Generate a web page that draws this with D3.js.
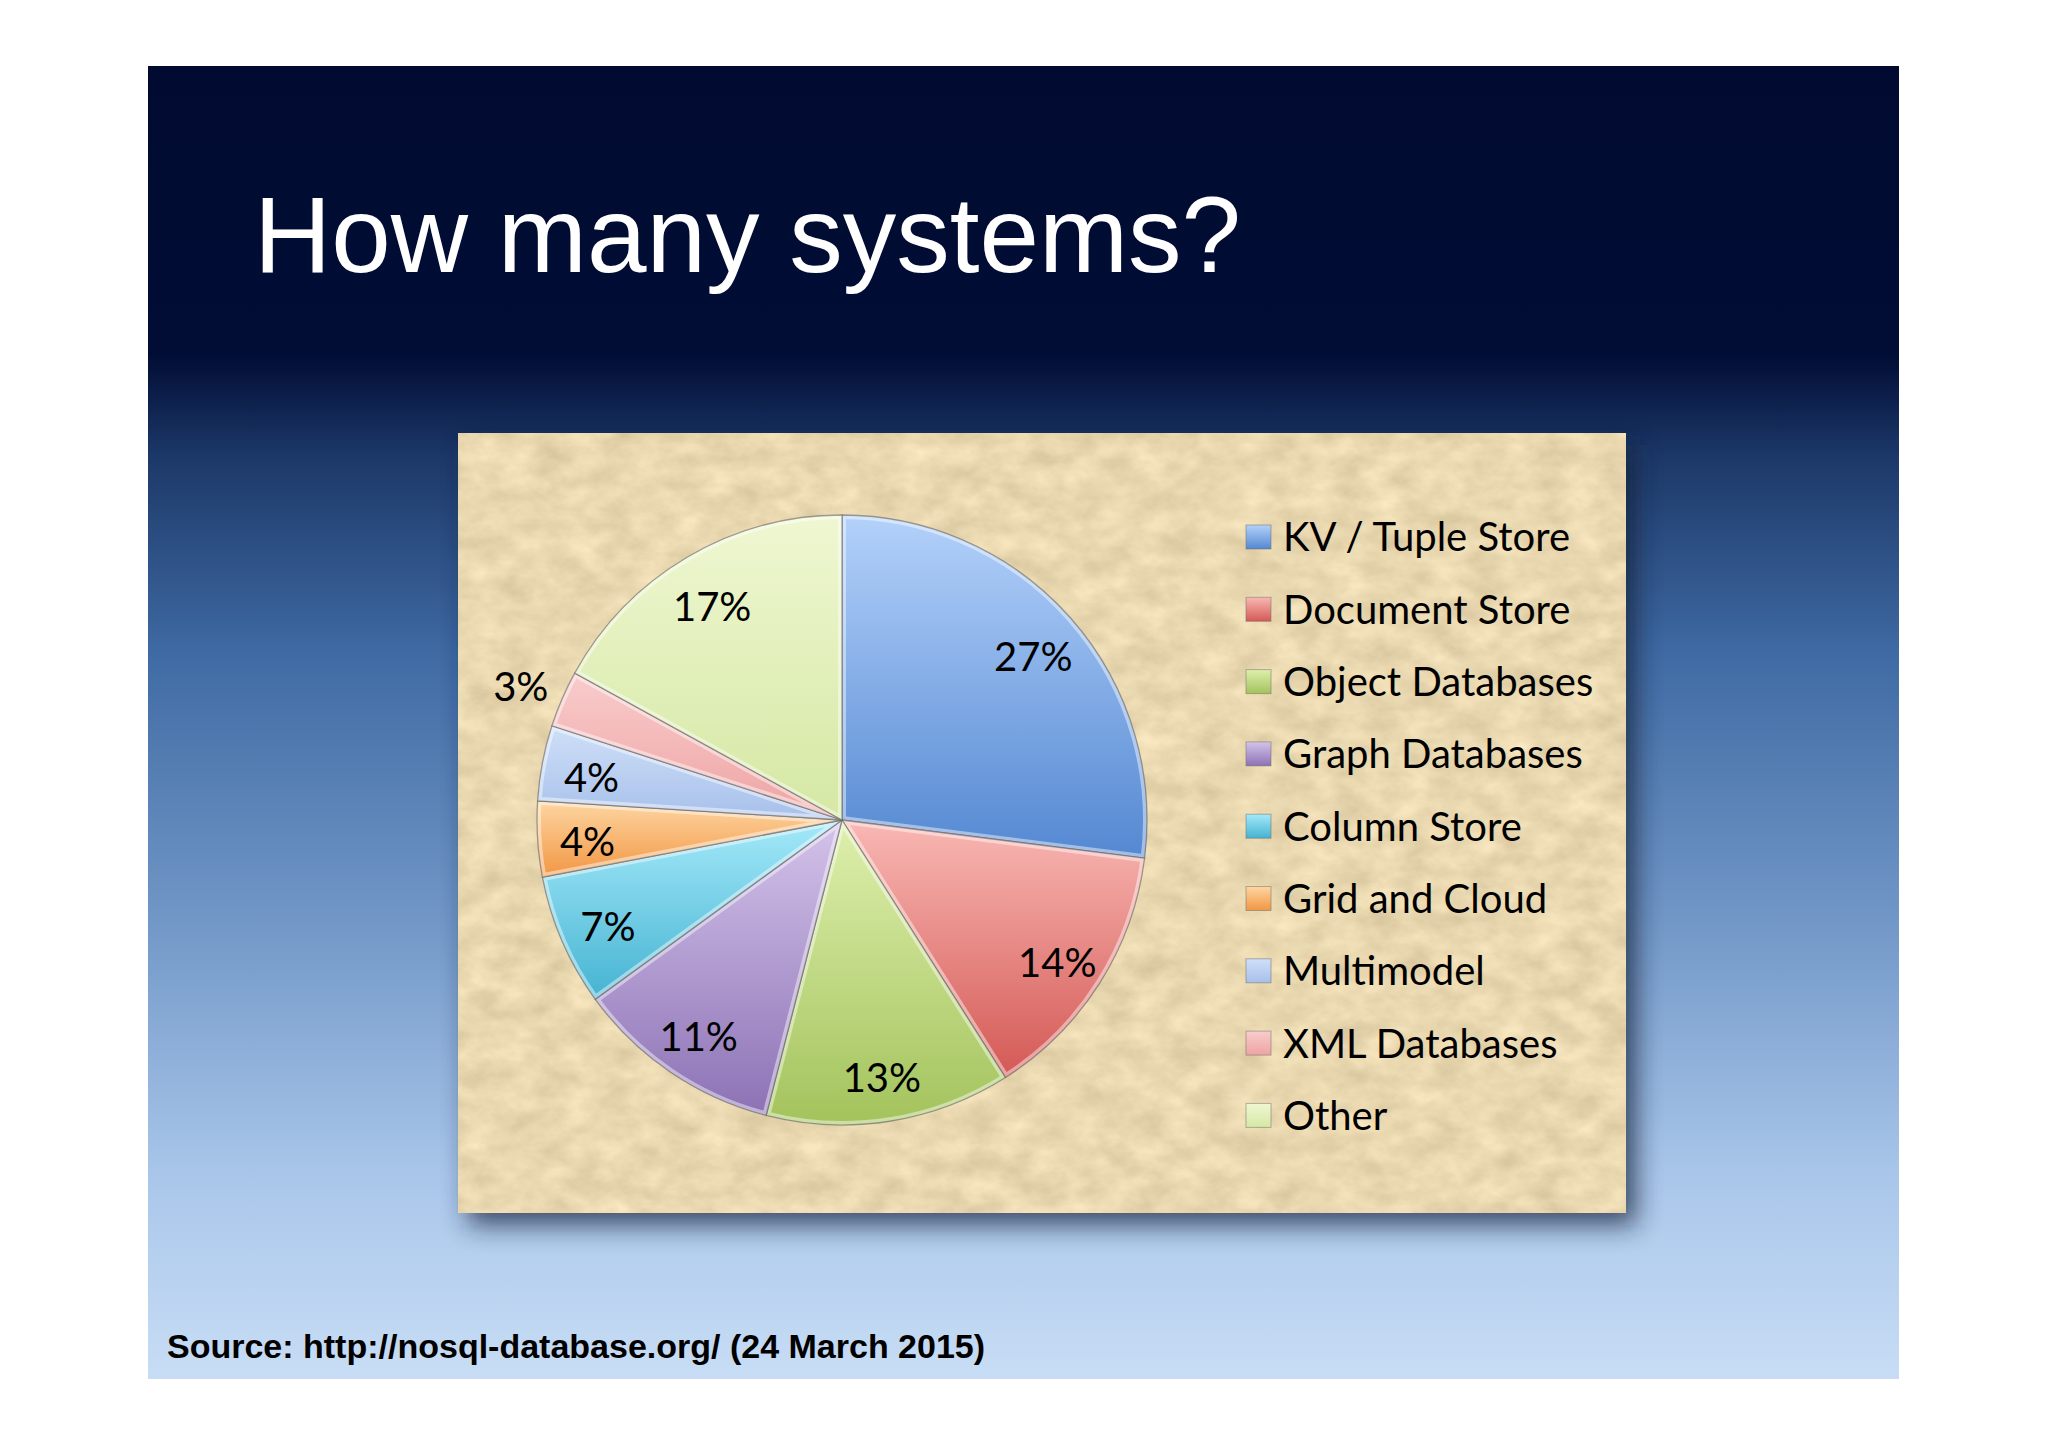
<!DOCTYPE html>
<html>
<head>
<meta charset="utf-8">
<script src="https://cdn.jsdelivr.net/npm/d3@7"></script>
<style>
  body { margin: 0; background: #fff; }
  svg { display: block; }
</style>
</head>
<body>
<svg id="chart"></svg>
<script>
// data
const categories = [
  "KV / Tuple Store", "Document Store", "Object Databases", "Graph Databases",
  "Column Store", "Grid and Cloud", "Multimodel", "XML Databases", "Other"
];
const shares = [27, 14, 13, 11, 7, 4, 4, 3, 17];
const titleText = "How many systems?";
const sourceText = "Source: http://nosql-database.org/ (24 March 2015)";

// light (top) and dark (bottom) tone for each slice
const lightTones = ["#b3d1fa", "#f9b8b4", "#deefad", "#d4c3ea", "#a4e9f9", "#fdd6a2", "#cfdff8", "#f9cccc", "#eff7d2"];
const darkTones  = ["#5488d2", "#d45955", "#a3c35c", "#8c72b5", "#45b3d2", "#f29644", "#a7c0ea", "#eea3a3", "#d5e8a4"];

const width = 2048, height = 1447;
const svg = d3.select("#chart").attr("width", width).attr("height", height);
const defs = svg.append("defs");

// slide background
const slide = { x: 148, y: 66, w: 1751, h: 1313 };
const bg = defs.append("linearGradient").attr("id", "slideBg")
  .attr("x1", 0).attr("y1", 0).attr("x2", 0).attr("y2", 1);
[[0, "#010b31"], [0.22, "#010d35"], [0.297, "#1c3868"], [0.447, "#3f6aa3"],
 [0.646, "#7096c6"], [0.845, "#a9c6ea"], [1, "#c8ddf5"]]
  .forEach(([o, c]) => bg.append("stop").attr("offset", o).attr("stop-color", c));

svg.append("rect")
  .attr("x", slide.x).attr("y", slide.y)
  .attr("width", slide.w).attr("height", slide.h)
  .attr("fill", "url(#slideBg)");

svg.append("text")
  .attr("x", 254).attr("y", 272)
  .attr("font-family", "'Liberation Sans', Arial, sans-serif")
  .attr("font-size", 107)
  .attr("fill", "#fff")
  .text(titleText);

svg.append("text")
  .attr("x", 167).attr("y", 1358)
  .attr("font-family", "'Liberation Sans', Arial, sans-serif")
  .attr("font-weight", "bold")
  .attr("font-size", 34)
  .attr("fill", "#000")
  .text(sourceText);

// chart panel with paper texture and shadow
const panel = { x: 458, y: 433, w: 1168, h: 780 };

const shadow = defs.append("filter").attr("id", "shadow")
  .attr("x", "-10%").attr("y", "-10%").attr("width", "130%").attr("height", "130%");
shadow.append("feGaussianBlur").attr("stdDeviation", 13);

const paper = defs.append("filter").attr("id", "paper")
  .attr("x", 0).attr("y", 0).attr("width", 1).attr("height", 1)
  .attr("color-interpolation-filters", "sRGB");
paper.append("feTurbulence")
  .attr("type", "fractalNoise")
  .attr("baseFrequency", "0.03 0.045")
  .attr("numOctaves", 5)
  .attr("seed", 7);
paper.append("feColorMatrix")
  .attr("type", "matrix")
  .attr("values", "0.17 0 0 0 0.83  0.17 0 0 0 0.76  0.17 0 0 0 0.605  0 0 0 0 1");

svg.append("rect")
  .attr("x", panel.x + 10).attr("y", panel.y + 12)
  .attr("width", panel.w).attr("height", panel.h)
  .attr("fill", "#14203a").attr("opacity", 0.75)
  .attr("filter", "url(#shadow)");

svg.append("rect")
  .attr("x", panel.x).attr("y", panel.y)
  .attr("width", panel.w).attr("height", panel.h)
  .attr("fill", "#e8d6ae")
  .attr("filter", "url(#paper)");

// gradients for slices and swatches
categories.forEach((c, i) => {
  const g = defs.append("linearGradient").attr("id", "grad" + i)
    .attr("x1", 0).attr("y1", 0).attr("x2", 0).attr("y2", 1);
  g.append("stop").attr("offset", 0).attr("stop-color", lightTones[i]);
  g.append("stop").attr("offset", 1).attr("stop-color", darkTones[i]);
});

// pie
const cx = 842, cy = 820, radius = 305;
const pie = d3.pie().sort(null).value(d => d);
const arcs = pie(shares);
const arc = d3.arc().innerRadius(0).outerRadius(radius);
const labelArc = d3.arc().innerRadius(255).outerRadius(255);
const outerLabelArc = d3.arc().innerRadius(350).outerRadius(350);

const g = svg.append("g").attr("transform", `translate(${cx},${cy})`);

arcs.forEach((d, i) => {
  defs.append("clipPath").attr("id", "clip" + i)
    .append("path").attr("d", arc(d));
});

const slices = g.selectAll("g.slice").data(arcs).join("g").attr("class", "slice");

slices.append("path")
  .attr("d", arc)
  .attr("fill", (d, i) => `url(#grad${i})`);

// soft bevel highlight along the slice edges
slices.append("path")
  .attr("d", arc)
  .attr("fill", "none")
  .attr("stroke", "#fff")
  .attr("stroke-opacity", 0.45)
  .attr("stroke-width", 8)
  .attr("clip-path", (d, i) => `url(#clip${i})`);

slices.append("path")
  .attr("d", arc)
  .attr("fill", "none")
  .attr("stroke", "#5a5a5a")
  .attr("stroke-opacity", 0.55)
  .attr("stroke-width", 1.3);

g.selectAll("text.pct").data(arcs).join("text")
  .attr("class", "pct")
  .attr("transform", d => `translate(${(d.data < 4 ? outerLabelArc : labelArc).centroid(d)})`)
  .attr("text-anchor", "middle")
  .attr("dy", "0.5em")
  .attr("font-family", "Lato, 'Open Sans', sans-serif")
  .attr("font-size", 40)
  .attr("fill", "#000")
  .text(d => d.data + "%");

// legend
const legendY = d3.scalePoint()
  .domain(categories)
  .range([537, 537 + 72.3 * (categories.length - 1)]);

const legend = svg.append("g");
const items = legend.selectAll("g").data(categories).join("g")
  .attr("transform", d => `translate(0,${legendY(d)})`);

items.append("rect")
  .attr("x", 1246).attr("y", -12)
  .attr("width", 25).attr("height", 24)
  .attr("fill", (d, i) => `url(#grad${i})`)
  .attr("stroke", "#6d6d6d")
  .attr("stroke-opacity", 0.5)
  .attr("stroke-width", 1);

items.append("text")
  .attr("x", 1283)
  .attr("dy", "0.36em")
  .attr("font-family", "Lato, 'Open Sans', sans-serif")
  .attr("font-size", 40)
  .attr("fill", "#000")
  .text(d => d);
</script>
</body>
</html>
